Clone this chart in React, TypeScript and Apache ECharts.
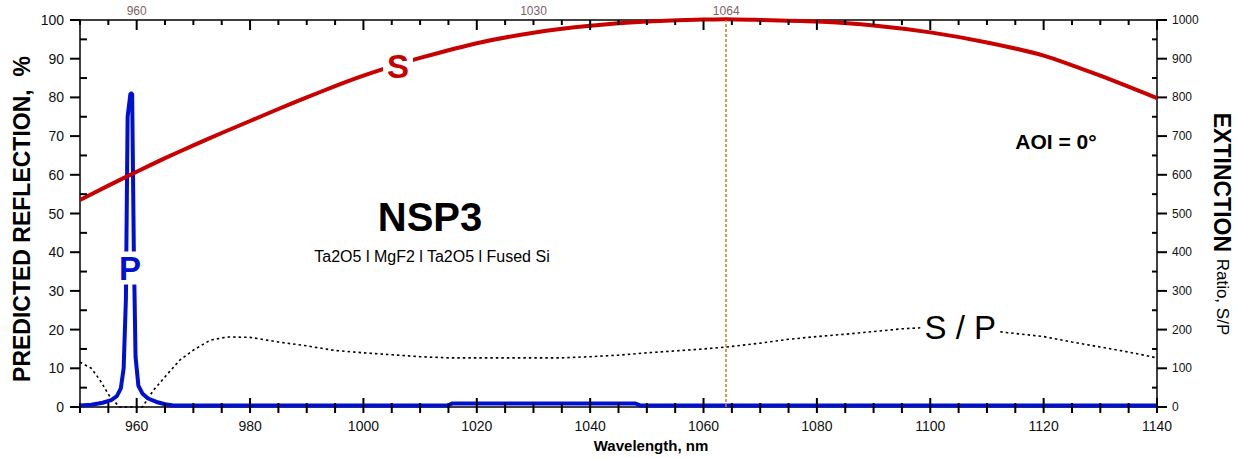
import React, { useEffect, useRef } from "react";
import * as echarts from "echarts";

const FONT = "'Liberation Sans', Arial, Helvetica, sans-serif";

// S-polarized reflection (%)
const sWavelength = [950, 955, 960, 965, 970, 975, 980, 985, 990, 995, 1000, 1005, 1010, 1020, 1030, 1040, 1050, 1057, 1060, 1064, 1070, 1080, 1090, 1100, 1110, 1120, 1130, 1140];
const sReflection = [53.5, 57.2, 60.8, 64.3, 67.6, 70.8, 73.9, 77, 80, 82.9, 85.6, 88, 90.2, 94, 96.7, 98.5, 99.6, 100, 100.1, 100.2, 100, 99.6, 98.6, 96.8, 94.2, 90.8, 85.6, 79.8];

// P-polarized reflection (%)
const pWavelength = [950, 952, 954, 955.5, 956.5, 957.2, 957.7, 958.1, 958.4, 958.9, 959.2, 959.5, 959.8, 960.3, 961, 962, 963.5, 965, 966.5, 1015, 1015.6, 1048, 1048.8, 1140];
const pReflection = [0.4, 0.6, 1.1, 1.8, 2.8, 4.8, 10, 28, 75, 81, 81, 40, 13, 5.5, 3.5, 2.2, 1.3, 0.7, 0.4, 0.4, 0.9, 0.9, 0.4, 0.4];

// Extinction ratio S/P
const ratioWavelength = [950, 952, 953.5, 955.3, 957, 961, 963, 965, 967.6, 970, 973, 976, 980, 985, 990, 995, 1000, 1005, 1010, 1015, 1020, 1030, 1035, 1040, 1045, 1050, 1055, 1060, 1064, 1070, 1075, 1080, 1085, 1090, 1095, 1100, 1105, 1110, 1115, 1120, 1125, 1130, 1135, 1140];
const ratioValue = [116, 100, 70, 26, 0, 0, 44, 78, 121, 147, 173, 181, 180, 168, 158, 146, 140, 135, 130, 127, 127, 127, 127, 130, 134, 140, 145, 150, 155, 165, 175, 182, 188, 195, 202, 206, 204, 198, 190, 182, 168, 155, 142, 127];

const topAxisLabels = [960, 1030, 1064];
const laserWavelength = 1064;
const sLabelAt = [1006.1, 88.1];
const pLabelAt = [958.8, 35.9];
const ratioLabelAt = [1105.3, 206.7];

const X_MIN = 950;
const X_MAX = 1140;
const X_MAJOR_FROM = 960;
const X_MAJOR_STEP = 20;
const X_MINOR_STEP = 5;
const Y_MAX = 100;
const Y_MINOR_STEP = 5;
const Y2_MAX = 1000;
const Y2_MINOR_STEP = 50;

const GRID = { left: 80, right: 81, top: 20, bottom: 51 };
const CHART_W = 1238;
const CHART_H = 458;

const line = () => ({ show: true, lineStyle: { color: "#000", width: 1.5 }, onZero: false });
const noLine = () => ({ show: false, onZero: false });
const plain = (v: number) => String(v);

// tick marks as rect symbols placed through the axis scales
// vertical tick: from dy1 to dy2 pixels relative to the axis point; horizontal: dx1..dx2
function vTick(x: number, y: number, dy1: number, dy2: number) {
  return { value: [x, y], symbolSize: [2, dy2 - dy1], symbolOffset: [0, (dy1 + dy2) / 2] };
}
function hTick(x: number, y: number, dx1: number, dx2: number) {
  return { value: [x, y], symbolSize: [dx2 - dx1, 2], symbolOffset: [(dx1 + dx2) / 2, 0] };
}
function leftAxisTicks() {
  const out: any[] = [];
  for (let x = X_MIN; x <= X_MAX; x += X_MINOR_STEP) {
    const major = (x - X_MAJOR_FROM) % X_MAJOR_STEP === 0;
    out.push(vTick(x, 0, major ? -9 : -4, 6));
    out.push(vTick(x, Y_MAX, 0, major ? 10 : 5));
  }
  for (let y = 0; y <= Y_MAX; y += Y_MINOR_STEP) {
    out.push(y % 10 === 0 ? hTick(X_MIN, y, -10, 0) : hTick(X_MIN, y, 0, 7));
  }
  return out;
}
function rightAxisTicks() {
  const out: any[] = [];
  for (let y = 0; y <= Y2_MAX; y += Y2_MINOR_STEP) {
    out.push(y % 100 === 0 ? hTick(X_MAX, y, 0, 10) : hTick(X_MAX, y, -5, 0));
  }
  return out;
}
function tickSeries(yAxisIndex: number, data: any[]) {
  return {
    type: "scatter",
    xAxisIndex: 0,
    yAxisIndex,
    symbol: "rect",
    silent: true,
    clip: false,
    z: 20,
    itemStyle: { color: "#000", opacity: 1 },
    emphasis: { disabled: true },
    data,
  };
}

function labelPoint(coord: number[], text: string, color: string, bold: boolean) {
  return {
    symbol: "circle",
    symbolSize: 1,
    itemStyle: { color: "rgba(0,0,0,0)" },
    data: [
      {
        coord,
        label: {
          show: true,
          position: "inside",
          formatter: text,
          fontSize: 33,
          fontFamily: FONT,
          fontWeight: bold ? "bold" : "normal",
          color,
          backgroundColor: "#fff",
          padding: [0, 4],
        },
      },
    ],
  };
}

const texts: any[] = [
  { type: "text", x: 430, y: 217, z: 50, style: { text: "NSP3", fontSize: 40, fontWeight: "bold", fontFamily: FONT, fill: "#000", align: "center", verticalAlign: "middle" } },
  { type: "text", x: 432, y: 256, z: 50, style: { text: "Ta2O5 l MgF2 l Ta2O5 l Fused Si", fontSize: 16, fontFamily: FONT, fill: "#000", align: "center", verticalAlign: "middle" } },
  { type: "text", x: 1056, y: 141, z: 50, style: { text: "AOI = 0°", fontSize: 21, fontWeight: "bold", fontFamily: FONT, fill: "#000", align: "center", verticalAlign: "middle" } },
  { type: "text", x: 651, y: 445, z: 50, style: { text: "Wavelength, nm", fontSize: 15, fontWeight: "bold", fontFamily: FONT, fill: "#000", align: "center", verticalAlign: "middle" } },
  { type: "text", x: 22, y: 219, z: 50, rotation: Math.PI / 2, style: { text: "PREDICTED REFLECTION,  %", fontSize: 23, fontWeight: "bold", fontFamily: FONT, fill: "#000", align: "center", verticalAlign: "middle" } },
  {
    type: "text", x: 1222, y: 224, z: 50, rotation: -Math.PI / 2,
    style: {
      text: "{b|EXTINCTION}  {n|Ratio, S/P}",
      align: "center", verticalAlign: "middle", fill: "#000",
      rich: {
        b: { fontSize: 23, fontWeight: "bold", fontFamily: FONT, fill: "#000" },
        n: { fontSize: 17, fontFamily: FONT, fill: "#000" },
      },
    },
  },
];

export default function App() {
  const ref = useRef<HTMLDivElement>(null);
  useEffect(() => {
    const chart = echarts.init(ref.current!, null, { renderer: "svg" });
    const option: any = {
      animation: false,
      backgroundColor: "#fff",
      textStyle: { fontFamily: FONT },
      grid: [GRID],
      xAxis: [
        {
          type: "value", position: "bottom", min: X_MIN, max: X_MAX, interval: 10, axisLine: line(), axisTick: { show: false }, splitLine: { show: false },
          axisLabel: {
            show: true, fontSize: 14, color: "#111", margin: 12, fontFamily: FONT,
            formatter: (v: number) => (v >= X_MAJOR_FROM && (v - X_MAJOR_FROM) % X_MAJOR_STEP === 0 ? String(v) : ""),
          },
        },
        { type: "value", position: "top", min: X_MIN, max: X_MAX, interval: 5, axisLine: line(), axisTick: { show: false }, axisLabel: { show: false }, splitLine: { show: false } },
        {
          type: "value", position: "top", min: X_MIN, max: X_MAX, interval: 1, axisLine: noLine(), axisTick: { show: false }, splitLine: { show: false },
          axisLabel: {
            show: true, fontSize: 12, color: "#7f6262", margin: 3, fontFamily: FONT,
            formatter: (v: number) => (topAxisLabels.includes(Math.round(v)) ? String(Math.round(v)) : ""),
          },
        },
      ],
      yAxis: [
        { type: "value", position: "left", min: 0, max: Y_MAX, interval: 10, axisLine: line(), axisTick: { show: false }, axisLabel: { show: true, fontSize: 14, color: "#111", margin: 16, fontFamily: FONT, formatter: plain }, splitLine: { show: false } },
        { type: "value", position: "right", min: 0, max: Y2_MAX, interval: 100, axisLine: line(), axisTick: { show: false }, axisLabel: { show: true, fontSize: 12, color: "#111", margin: 15, fontFamily: FONT, formatter: plain }, splitLine: { show: false } },
      ],
      series: [
        {
          name: "S/P",
          type: "line",
          xAxisIndex: 0,
          yAxisIndex: 1,
          data: ratioWavelength.map((w, i) => [w, ratioValue[i]]),
          showSymbol: false,
          clip: false,
          lineStyle: { color: "#000", width: 1.6, type: [2.5, 3] },
          z: 2,
          markLine: {
            silent: true,
            symbol: ["none", "none"],
            label: { show: false },
            lineStyle: { color: "#d47a22", width: 1.5, type: [3, 2] },
            data: [{ xAxis: laserWavelength }],
          },
          markPoint: labelPoint(ratioLabelAt, "S / P", "#000", false),
        },
        {
          name: "P",
          type: "line",
          xAxisIndex: 0,
          yAxisIndex: 0,
          data: pWavelength.map((w, i) => [w, pReflection[i]]),
          showSymbol: false,
          clip: false,
          lineStyle: { color: "#0010d0", width: 4 },
          z: 3,
          markPoint: labelPoint(pLabelAt, "P", "#0010d0", true),
        },
        {
          name: "S",
          type: "line",
          xAxisIndex: 0,
          yAxisIndex: 0,
          data: sWavelength.map((w, i) => [w, sReflection[i]]),
          showSymbol: false,
          clip: false,
          smooth: 0.2,
          lineStyle: { color: "#c80000", width: 4 },
          z: 4,
          markPoint: labelPoint(sLabelAt, "S", "#c80000", true),
        },
        tickSeries(0, leftAxisTicks()),
        tickSeries(1, rightAxisTicks()),
      ],
      graphic: texts,
    };
    chart.setOption(option);
    return () => chart.dispose();
  }, []);
  return <div ref={ref} style={{ position: "fixed", left: 0, top: 0, width: CHART_W, height: CHART_H, background: "#fff" }} />;
}
